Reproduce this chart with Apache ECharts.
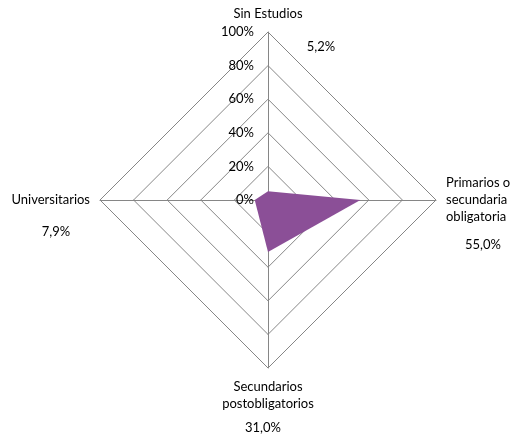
<!DOCTYPE html>
<html><head><meta charset="utf-8">
<script src="https://cdn.jsdelivr.net/npm/echarts@6/dist/echarts.min.js"></script>
<style>html,body{margin:0;padding:0;background:#fff}#c{width:516px;height:444px}</style>
</head><body><div id="c"></div>
<script>
const categories = ['Sin Estudios', 'Universitarios', 'Secundarios\npostobligatorios', 'Primarios o\nsecundaria\nobligatoria'];
const values = [5.2, 7.9, 31.0, 55.0];
const valueLabels = ['5,2%', '7,9%', '31,0%', '55,0%'];
const tickLabels = ['0%', '20%', '40%', '60%', '80%', '100%'];

const chart = echarts.init(document.getElementById('c'), null, {renderer: 'canvas'});
const font = 'Lato, "Open Sans", sans-serif';
chart.setOption({
  animation: false,
  radar: {
    center: [268, 200],
    radius: 168,
    startAngle: 90,
    shape: 'polygon',
    splitNumber: 5,
    indicator: categories.map((n, i) => ({
      name: n, min: 0, max: 100,
      axisLabel: i === 0 ? {
        show: true, fontFamily: font, fontSize: 13, color: '#000', margin: 14,
        formatter: v => tickLabels[Math.round(v / 20)]
      } : {show: false}
    })),
    axisName: {
      color: '#000', fontFamily: font, fontSize: 13, lineHeight: 17
    },
    nameGap: 10,
    axisLine: {lineStyle: {color: '#868686', width: 1}},
    splitLine: {lineStyle: {color: '#868686', width: 1}},
    splitArea: {show: false},
    axisTick: {show: false}
  },
  series: [{
    type: 'radar',
    symbol: 'none',
    lineStyle: {width: 0},
    areaStyle: {color: '#8B4F97', opacity: 1},
    data: [{value: values}]
  }]
});

// value labels placed relative to each axis end, using the radar's own coordinate system
const cs = chart.getModel().getComponent('radar').coordinateSystem;
const offsets = [[53, 15], [-44, 32], [-5, 60], [47, 45]];
chart.setOption({
  graphic: valueLabels.map((t, i) => {
    const p = cs.dataToPoint(100, i);
    return {
      type: 'text', x: p[0] + offsets[i][0], y: p[1] + offsets[i][1],
      style: {text: t, fill: '#000', font: '13px ' + font, align: 'center', verticalAlign: 'middle'}
    };
  })
});
</script></body></html>
